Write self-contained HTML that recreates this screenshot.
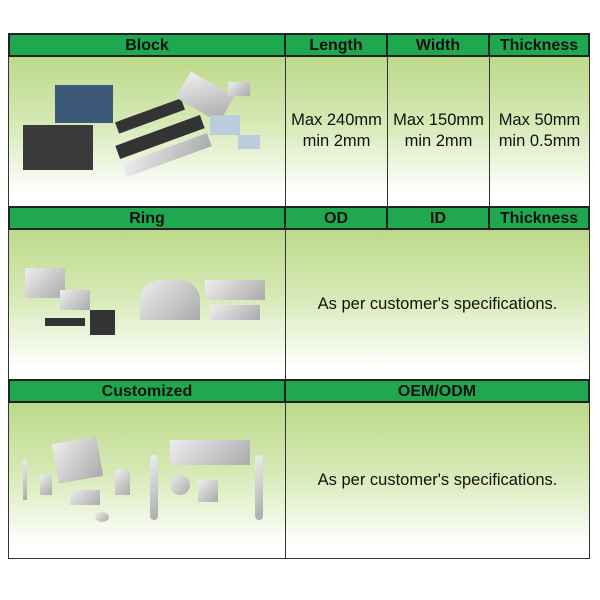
<!DOCTYPE html>
<html><head><style>
body{margin:0;width:600px;height:600px;background:#fff;position:relative;overflow:hidden;font-family:"Liberation Sans",sans-serif}
.a{position:absolute;box-sizing:border-box}
.h{background:#1fa84f;border:2px solid #222;font-weight:bold;font-size:16px;color:#111;text-align:center;line-height:22px}
.c{background:linear-gradient(#bcd98a 0%,#d6e9b6 45%,#fff 92%);border:1px solid #333;display:flex;align-items:center;justify-content:center;text-align:center;font-size:16.5px;color:#111;line-height:21px}
.g{position:absolute;background:linear-gradient(135deg,#eee,#aaa);}
.d{position:absolute;background:#333}
</style></head><body>
<div class="a c" style="left:8px;top:55px;width:278px;height:152px"></div>
<div class="a c" style="left:285px;top:55px;width:103px;height:152px">Max 240mm<br>min 2mm</div>
<div class="a c" style="left:387px;top:55px;width:103px;height:152px">Max 150mm<br>min 2mm</div>
<div class="a c" style="left:489px;top:55px;width:101px;height:152px">Max 50mm<br>min 0.5mm</div>
<div class="a h" style="left:8px;top:33px;width:278px;height:24px">Block</div>
<div class="a h" style="left:284px;top:33px;width:104px;height:24px">Length</div>
<div class="a h" style="left:386px;top:33px;width:104px;height:24px">Width</div>
<div class="a h" style="left:488px;top:33px;width:102px;height:24px">Thickness</div>

<div class="a c" style="left:8px;top:228px;width:278px;height:152px"></div>
<div class="a c" style="left:285px;top:228px;width:305px;height:152px">As per customer's specifications.</div>
<div class="a h" style="left:8px;top:206px;width:278px;height:24px">Ring</div>
<div class="a h" style="left:284px;top:206px;width:104px;height:24px">OD</div>
<div class="a h" style="left:386px;top:206px;width:104px;height:24px">ID</div>
<div class="a h" style="left:488px;top:206px;width:102px;height:24px">Thickness</div>

<div class="a c" style="left:8px;top:401px;width:278px;height:158px"></div>
<div class="a c" style="left:285px;top:401px;width:305px;height:158px">As per customer's specifications.</div>
<div class="a h" style="left:8px;top:379px;width:278px;height:24px">Customized</div>
<div class="a h" style="left:284px;top:379px;width:306px;height:24px">OEM/ODM</div>

<div class="d" style="left:23px;top:125px;width:70px;height:45px;background:#3a3a3a"></div>
<div class="d" style="left:55px;top:85px;width:58px;height:38px;background:#3c5a78"></div>
<div class="d" style="left:115px;top:110px;width:70px;height:12px;background:#333;transform:rotate(-20deg)"></div>
<div class="d" style="left:115px;top:130px;width:90px;height:14px;background:#333;transform:rotate(-20deg)"></div>
<div class="g" style="left:122px;top:148px;width:90px;height:14px;transform:rotate(-20deg)"></div>
<div class="g" style="left:180px;top:82px;width:50px;height:30px;transform:rotate(30deg)"></div>
<div class="g" style="left:228px;top:82px;width:22px;height:14px"></div>
<div class="g" style="left:210px;top:115px;width:30px;height:20px;background:#bcd"></div>
<div class="g" style="left:238px;top:135px;width:22px;height:14px;background:#bcd"></div>
<div class="g" style="left:25px;top:268px;width:40px;height:30px"></div>
<div class="g" style="left:60px;top:290px;width:30px;height:20px"></div>
<div class="d" style="left:45px;top:318px;width:40px;height:8px"></div>
<div class="d" style="left:90px;top:310px;width:25px;height:25px"></div>
<div class="g" style="left:140px;top:280px;width:60px;height:40px;border-radius:20px 20px 0 0"></div>
<div class="g" style="left:205px;top:280px;width:60px;height:20px"></div>
<div class="g" style="left:210px;top:305px;width:50px;height:15px"></div>
<div class="g" style="left:55px;top:440px;width:45px;height:40px;transform:rotate(-10deg)"></div>
<div class="g" style="left:23px;top:460px;width:4px;height:40px"></div>
<div class="g" style="left:40px;top:475px;width:12px;height:20px"></div>
<div class="g" style="left:70px;top:490px;width:30px;height:15px"></div>
<div class="g" style="left:115px;top:470px;width:15px;height:25px"></div>
<div class="g" style="left:150px;top:455px;width:8px;height:65px;border-radius:4px"></div>
<div class="g" style="left:170px;top:440px;width:80px;height:25px"></div>
<div class="g" style="left:170px;top:475px;width:20px;height:20px;border-radius:50%"></div>
<div class="g" style="left:198px;top:480px;width:20px;height:22px"></div>
<div class="g" style="left:255px;top:455px;width:8px;height:65px;border-radius:4px"></div>
<div class="g" style="left:95px;top:512px;width:14px;height:10px;border-radius:50%"></div>
</body></html>
